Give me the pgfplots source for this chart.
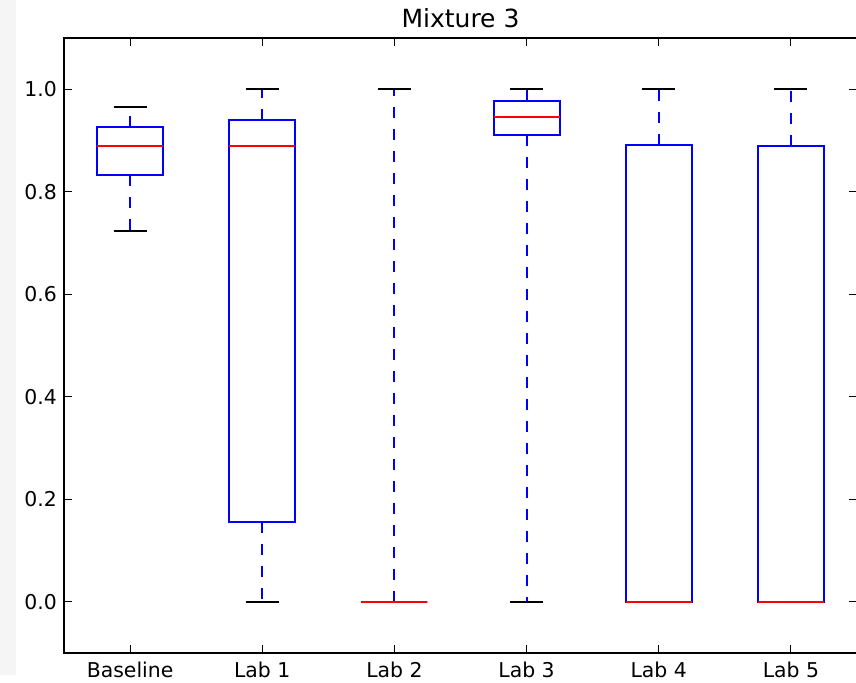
\documentclass[border=0pt]{standalone}
\usepackage{fontspec}
\setmainfont{DejaVu Sans}
\usepackage{pgfplots}
\pgfplotsset{compat=1.18}
\usepgfplotslibrary{statistics}
\begin{document}
\begin{tikzpicture}
\path[use as bounding box] (-32pt,-15pt) rectangle (396pt,326.5pt);
\fill[black!4] (-32pt,-11pt) rectangle (-24pt,326.5pt);
\begin{axis}[
  at={(0,0)}, anchor=south west, scale only axis,
  width=396.5pt, height=307.5pt,
  xmin=0.5, xmax=6.5, ymin=-0.1, ymax=1.1,
  xtick={1,2,3,4,5,6},
  xticklabels={Baseline,Lab 1,Lab 2,Lab 3,Lab 4,Lab 5},
  ytick={0,0.2,0.4,0.6,0.8,1.0},
  yticklabel style={/pgf/number format/.cd, fixed, fixed zerofill, precision=1},
  xticklabel style={yshift=-0.8pt},
  /pgf/number format/assume math mode=true,
  ticklabel style={font=\fontsize{10.2}{12}\selectfont, text=black},
  tick align=inside, major tick length=4pt,
  tick style={black, line width=0.5pt},
  axis line style={black, line width=1pt},
  title={Mixture 3},
  title style={font=\fontsize{12.5}{15}\selectfont, text=black, yshift=-4.5pt},
  boxplot/draw direction=y,
  boxplot/box extend=0.5,
  boxplot/whisker extend=0.25,
  boxplot/every box/.style={draw=blue, solid, line width=1pt},
  boxplot/every median/.style={draw=red, solid, line width=1pt},
  boxplot/draw/lower whisker/.code={%
    \draw[blue, line width=1pt, dash pattern=on 5.5pt off 5.5pt]
      (boxplot box cs:\pgfplotsboxplotvalue{lower quartile},0.5) --
      (boxplot box cs:\pgfplotsboxplotvalue{lower whisker},0.5);
    \draw[black, solid, line width=1pt]
      (boxplot whisker cs:\pgfplotsboxplotvalue{lower whisker},0) --
      (boxplot whisker cs:\pgfplotsboxplotvalue{lower whisker},1);
  },
  boxplot/draw/upper whisker/.code={%
    \draw[blue, line width=1pt, dash pattern=on 5.5pt off 5.5pt]
      (boxplot box cs:\pgfplotsboxplotvalue{upper quartile},0.5) --
      (boxplot box cs:\pgfplotsboxplotvalue{upper whisker},0.5);
    \draw[black, solid, line width=1pt]
      (boxplot whisker cs:\pgfplotsboxplotvalue{upper whisker},0) --
      (boxplot whisker cs:\pgfplotsboxplotvalue{upper whisker},1);
  },
]
% Baseline
\addplot[boxplot prepared={draw position=1, draw direction=y,
  lower whisker=0.723, lower quartile=0.832, median=0.889,
  upper quartile=0.926, upper whisker=0.965}, black, solid] coordinates {};
% Lab 1
\addplot[boxplot prepared={draw position=2, draw direction=y,
  lower whisker=0, lower quartile=0.156, median=0.889,
  upper quartile=0.939, upper whisker=1.0}, black, solid] coordinates {};
% Lab 2
\addplot[boxplot prepared={draw position=3, draw direction=y,
  lower whisker=0, lower quartile=0, median=0,
  upper quartile=0, upper whisker=1.0}, black, solid] coordinates {};
% Lab 3
\addplot[boxplot prepared={draw position=4, draw direction=y,
  lower whisker=0, lower quartile=0.910, median=0.945,
  upper quartile=0.977, upper whisker=1.0}, black, solid] coordinates {};
% Lab 4
\addplot[boxplot prepared={draw position=5, draw direction=y,
  lower whisker=0, lower quartile=0, median=0,
  upper quartile=0.891, upper whisker=1.0}, black, solid] coordinates {};
% Lab 5
\addplot[boxplot prepared={draw position=6, draw direction=y,
  lower whisker=0, lower quartile=0, median=0,
  upper quartile=0.889, upper whisker=1.0}, black, solid] coordinates {};
\end{axis}
\end{tikzpicture}
\end{document}
